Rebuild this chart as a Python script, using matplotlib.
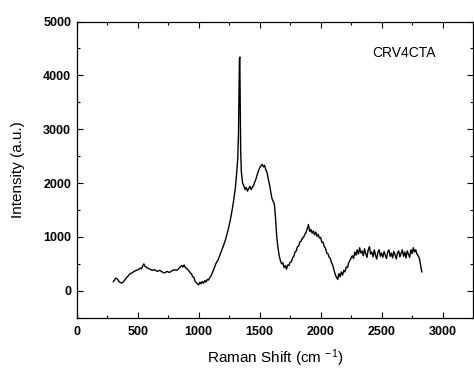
import numpy as np
import matplotlib
matplotlib.use('Agg')
import matplotlib.pyplot as plt
from matplotlib.ticker import MultipleLocator

plt.rcParams['font.family'] = ['Liberation Sans', 'DejaVu Sans']
plt.rcParams['mathtext.fontset'] = 'custom'
plt.rcParams['mathtext.rm'] = 'Liberation Sans'
plt.rcParams['mathtext.it'] = 'Liberation Sans:italic'

# Raman spectrum, split by region
# low background 300-1100 cm-1
shift_low = [300, 310, 320, 330, 340, 350, 360, 370, 380, 390, 400, 410, 420,
             430, 440, 450, 460, 470, 480, 490, 500, 510, 520, 530, 540, 550,
             560, 570, 580, 590, 600, 620, 640, 660, 680, 700, 720, 740, 760,
             780, 800, 820, 840, 860, 870, 880, 890, 900, 910, 920, 930, 940,
             950, 960, 970, 980, 990, 1000, 1010, 1020, 1030, 1040, 1050, 1060,
             1070, 1080, 1090, 1100]
int_low = [170, 200, 235, 225, 195, 165, 150, 145, 160, 190, 220, 250, 270,
           300, 320, 330, 340, 360, 370, 380, 390, 400, 420, 410, 460, 500,
           450, 440, 420, 410, 400, 380, 390, 360, 380, 350, 330, 360, 340,
           370, 390, 380, 420, 470, 440, 480, 430, 420, 390, 370, 330, 320,
           260, 250, 180, 150, 130, 110, 160, 130, 170, 140, 190, 160,
           210, 200, 240, 270]
# D band / G band 1100-1640 cm-1
shift_dg = [1120, 1140, 1160, 1180, 1200, 1220, 1240, 1260, 1280, 1300, 1310,
            1320, 1326, 1330, 1334, 1337, 1340, 1344, 1350, 1360, 1370, 1380,
            1390, 1400, 1410, 1420, 1430, 1440, 1450, 1460, 1470, 1480, 1490,
            1500, 1510, 1520, 1530, 1540, 1550, 1560, 1570, 1580, 1590, 1600,
            1610, 1620, 1630]
int_dg = [380, 500, 580, 700, 820, 950, 1120, 1320, 1580, 1900, 2150,
          2450, 2900, 3600, 4300, 4340, 3500, 2600, 2200, 2000, 1950, 1880,
          1920, 1850, 1900, 1940, 1880, 1920, 1960, 2020, 2080, 2160, 2230,
          2280, 2320, 2350, 2300, 2330, 2250, 2200, 2080, 1980, 1850, 1720,
          1660, 1620, 1350]
# second-order hump 1640-2230 cm-1
shift_mid = [1640, 1650, 1660, 1670, 1680, 1690, 1700, 1710, 1720, 1730, 1740,
             1750, 1760, 1770, 1780, 1790, 1800, 1810, 1820, 1830, 1840, 1850,
             1860, 1870, 1880, 1890, 1900, 1910, 1920, 1930, 1940, 1950, 1960,
             1970, 1980, 1990, 2000, 2010, 2020, 2030, 2040, 2050, 2060, 2070,
             2080, 2090, 2100, 2110, 2120, 2130, 2140, 2150, 2160, 2170, 2180,
             2190, 2200, 2210, 2220, 2230]
int_mid = [1000, 800, 650, 560, 500, 520, 430, 470, 400, 480, 470,
           530, 540, 610, 640, 720, 740, 820, 830, 910, 920, 980,
           990, 1050, 1080, 1150, 1230, 1100, 1140, 1070, 1110, 1040, 1090,
           1010, 1050, 980, 990, 900, 900, 820, 790, 700, 690, 620,
           600, 520, 470, 380, 300, 250, 210, 320, 260, 350, 290,
           380, 350, 440, 430, 520]
# noisy plateau 2240-2830 cm-1
shift_high = [2240, 2250, 2260, 2270, 2280, 2290, 2300, 2310, 2320, 2330, 2340,
              2350, 2360, 2370, 2380, 2390, 2400, 2410, 2420, 2430, 2440, 2450,
              2460, 2470, 2480, 2490, 2500, 2510, 2520, 2530, 2540, 2550, 2560,
              2570, 2580, 2590, 2600, 2610, 2620, 2630, 2640, 2650, 2660, 2670,
              2680, 2690, 2700, 2710, 2720, 2730, 2740, 2750, 2760, 2770, 2780,
              2790, 2800, 2810, 2820, 2830]
int_high = [560, 610, 650, 600, 720, 660, 760, 680, 800, 700, 740,
            650, 780, 690, 620, 760, 820, 680, 720, 630, 760, 660,
            590, 720, 760, 640, 700, 620, 730, 660, 600, 720, 760,
            640, 700, 610, 730, 670, 590, 700, 740, 630, 700, 760,
            640, 720, 610, 740, 680, 620, 760, 690, 800, 720, 760,
            680, 650, 600, 480, 350]

sample_label = 'CRV4CTA'

raman_shift = shift_low + shift_dg + shift_mid + shift_high
intensity = int_low + int_dg + int_mid + int_high

fig = plt.figure(figsize=(4.74, 3.72), dpi=100)
ax = fig.add_axes([0.162, 0.146, 0.836, 0.796])

ax.plot(raman_shift, intensity, color='black', lw=1.0)

ax.set_xlim(0, 3250)
ax.set_ylim(-500, 5000)
ax.xaxis.set_major_locator(MultipleLocator(500))
ax.xaxis.set_minor_locator(MultipleLocator(250))
ax.yaxis.set_major_locator(MultipleLocator(1000))
ax.yaxis.set_minor_locator(MultipleLocator(500))

ax.tick_params(which='both', direction='in', top=True, right=True)
ax.tick_params(which='major', length=4, width=0.8)
ax.tick_params(which='minor', length=2, width=0.8)
ax.tick_params(axis='x', pad=6)
ax.tick_params(axis='y', pad=4)
for lab in ax.get_xticklabels() + ax.get_yticklabels():
    lab.set_fontweight('bold')
    lab.set_fontsize(9)
for sp in ax.spines.values():
    sp.set_linewidth(0.9)

ax.set_xlabel(r'Raman Shift (cm $^{-1}$)', fontsize=11, labelpad=7)
ax.set_ylabel('Intensity (a.u.)', fontsize=11, labelpad=13)

ax.text(2684, 4415, sample_label, fontsize=10, ha='center', va='center')

fig.savefig('out.png', dpi=100)
